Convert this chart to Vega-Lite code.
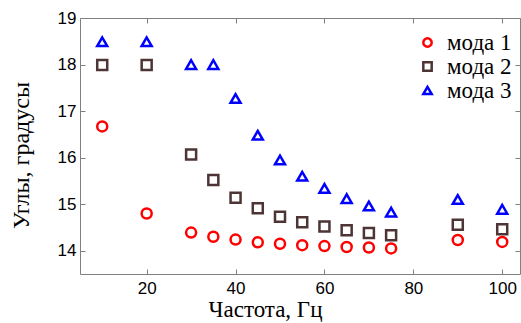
{
  "$schema": "https://vega.github.io/schema/vega-lite/v6.json",
  "width": 440,
  "height": 256,
  "autosize": "none",
  "padding": {"left": 80, "top": 18, "right": 1, "bottom": 49},
  "background": "white",
  "config": {"view": {"stroke": null}},
  "data": {
    "values": [
      {"freq": 10, "angle": 16.67, "mode": "мода 1"},
      {"freq": 20, "angle": 14.8, "mode": "мода 1"},
      {"freq": 30, "angle": 14.39, "mode": "мода 1"},
      {"freq": 35, "angle": 14.3, "mode": "мода 1"},
      {"freq": 40, "angle": 14.24, "mode": "мода 1"},
      {"freq": 45, "angle": 14.18, "mode": "мода 1"},
      {"freq": 50, "angle": 14.15, "mode": "мода 1"},
      {"freq": 55, "angle": 14.12, "mode": "мода 1"},
      {"freq": 60, "angle": 14.1, "mode": "мода 1"},
      {"freq": 65, "angle": 14.08, "mode": "мода 1"},
      {"freq": 70, "angle": 14.07, "mode": "мода 1"},
      {"freq": 75, "angle": 14.05, "mode": "мода 1"},
      {"freq": 90, "angle": 14.23, "mode": "мода 1"},
      {"freq": 100, "angle": 14.19, "mode": "мода 1"},
      {"freq": 10, "angle": 17.99, "mode": "мода 2"},
      {"freq": 20, "angle": 17.99, "mode": "мода 2"},
      {"freq": 30, "angle": 16.07, "mode": "мода 2"},
      {"freq": 35, "angle": 15.52, "mode": "мода 2"},
      {"freq": 40, "angle": 15.14, "mode": "мода 2"},
      {"freq": 45, "angle": 14.91, "mode": "мода 2"},
      {"freq": 50, "angle": 14.73, "mode": "мода 2"},
      {"freq": 55, "angle": 14.61, "mode": "мода 2"},
      {"freq": 60, "angle": 14.52, "mode": "мода 2"},
      {"freq": 65, "angle": 14.44, "mode": "мода 2"},
      {"freq": 70, "angle": 14.38, "mode": "мода 2"},
      {"freq": 75, "angle": 14.33, "mode": "мода 2"},
      {"freq": 90, "angle": 14.56, "mode": "мода 2"},
      {"freq": 100, "angle": 14.46, "mode": "мода 2"},
      {"freq": 10, "angle": 18.49, "mode": "мода 3"},
      {"freq": 20, "angle": 18.49, "mode": "мода 3"},
      {"freq": 30, "angle": 18.0, "mode": "мода 3"},
      {"freq": 35, "angle": 18.0, "mode": "мода 3"},
      {"freq": 40, "angle": 17.27, "mode": "мода 3"},
      {"freq": 45, "angle": 16.48, "mode": "мода 3"},
      {"freq": 50, "angle": 15.95, "mode": "мода 3"},
      {"freq": 55, "angle": 15.6, "mode": "мода 3"},
      {"freq": 60, "angle": 15.34, "mode": "мода 3"},
      {"freq": 65, "angle": 15.12, "mode": "мода 3"},
      {"freq": 70, "angle": 14.96, "mode": "мода 3"},
      {"freq": 75, "angle": 14.83, "mode": "мода 3"},
      {"freq": 90, "angle": 15.1, "mode": "мода 3"},
      {"freq": 100, "angle": 14.89, "mode": "мода 3"}
    ]
  },
  "layer": [
    {
      "mark": {"type": "point", "filled": false, "strokeWidth": 2.5, "size": 100, "opacity": 1},
      "encoding": {
        "x": {
          "field": "freq", "type": "quantitative",
          "scale": {"domain": [5, 104], "zero": false, "nice": false},
          "axis": {
            "orient": "bottom", "values": [20, 40, 60, 80, 100], "grid": false,
            "title": "Частота, Гц", "titleFont": "Liberation Serif", "titleFontSize": 23,
            "titleFontWeight": "normal", "titleColor": "black",
            "titleX": 185, "titleY": 24, "titleBaseline": "top",
            "labelFont": "Liberation Sans", "labelFontSize": 17, "labelColor": "black",
            "labelPadding": 11, "tickSize": -5, "tickColor": "#808080", "domainColor": "#808080",
            "labelFlush": false
          }
        },
        "y": {
          "field": "angle", "type": "quantitative",
          "scale": {"domain": [13.5, 19], "zero": false, "nice": false},
          "axis": {
            "orient": "left", "values": [14, 15, 16, 17, 18, 19], "grid": false,
            "title": "Углы, градусы", "titleFont": "Liberation Serif", "titleFontSize": 24,
            "titleFontWeight": "normal", "titleColor": "black",
            "titleX": -47, "titleY": 137, "titleBaseline": "bottom", "titleAngle": -90,
            "labelFont": "Liberation Sans", "labelFontSize": 17, "labelColor": "black",
            "labelPadding": 9, "tickSize": -5, "tickColor": "#808080", "domainColor": "#808080",
            "labelFlush": false
          }
        },
        "color": {
          "field": "mode", "type": "nominal",
          "scale": {"domain": ["мода 1", "мода 2", "мода 3"], "range": ["#ff0000", "#4d3535", "#0000ff"]},
          "legend": {
            "orient": "none", "legendX": 336, "legendY": 13, "title": null,
            "labelFont": "Liberation Serif", "labelFontSize": 23, "labelColor": "black",
            "symbolSize": 70, "symbolStrokeWidth": 2.5, "rowPadding": 0, "labelOffset": 8
          }
        },
        "shape": {
          "field": "mode", "type": "nominal",
          "scale": {"domain": ["мода 1", "мода 2", "мода 3"], "range": ["circle", "square", "triangle-up"]},
          "legend": {
            "orient": "none", "legendX": 336, "legendY": 13, "title": null,
            "labelFont": "Liberation Serif", "labelFontSize": 23, "labelColor": "black",
            "symbolSize": 70, "symbolStrokeWidth": 2.5, "rowPadding": 0, "labelOffset": 8
          }
        }
      }
    },
    {
      "mark": {"type": "point", "opacity": 0},
      "encoding": {
        "x": {
          "field": "freq", "type": "quantitative",
          "axis": {
            "orient": "top", "values": [20, 40, 60, 80, 100], "grid": false, "title": null,
            "labels": false, "tickSize": -5, "tickColor": "#808080", "domainColor": "#808080"
          }
        },
        "y": {
          "field": "angle", "type": "quantitative",
          "axis": {
            "orient": "right", "values": [14, 15, 16, 17, 18, 19], "grid": false, "title": null,
            "labels": false, "tickSize": -5, "tickColor": "#808080", "domainColor": "#808080"
          }
        }
      }
    }
  ],
  "resolve": {"axis": {"x": "independent", "y": "independent"}}
}
